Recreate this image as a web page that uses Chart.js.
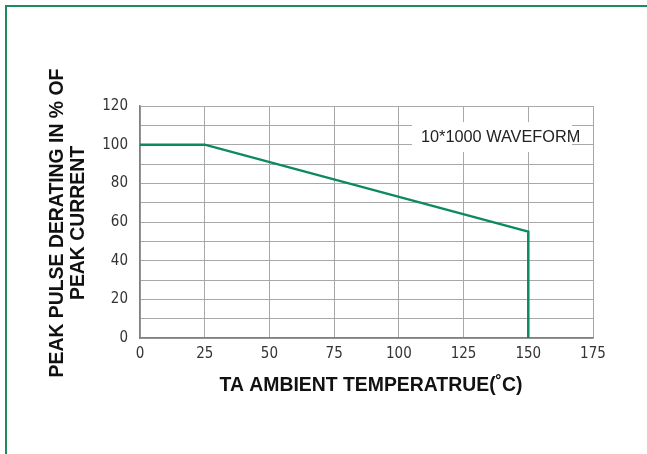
<!DOCTYPE html>
<html lang="en">
<head>
    <meta charset="UTF-8">
    <title>Peak pulse derating</title>
    <script src="https://cdn.jsdelivr.net/npm/chart.js"></script>
    <style>
        html, body { margin: 0; padding: 0; background: #fff; overflow: hidden; }
        .frame { position: absolute; left: 5px; top: 5px; width: 700px; height: 500px;
                 border-left: 2px solid #1f8a5e; border-top: 2px solid #1f8a5e; }
        canvas { position: absolute; left: 0; top: 0; }
    </style>
</head>
<body>
    <div class="frame"></div>
    <canvas id="derating" width="647" height="454"></canvas>

    <script>
        // curve: temperature (°C) vs % of peak current
        const temps = [0, 25, 150, 150];
        const percent = [100, 100, 55, 0];
        const xTicks = [0, 25, 50, 75, 100, 125, 150, 175];
        const yTicks = [0, 20, 40, 60, 80, 100, 120];

        const yTitle = ['PEAK PULSE DERATING IN % OF', 'PEAK CURRENT'];
        const xTitle = 'TA AMBIENT TEMPERATRUE(\u02DAC)';
        const note = '10*1000 WAVEFORM';

        const tickFont = { family: "'Liberation Sans Narrow', 'DejaVu Sans Condensed', sans-serif", size: 15 };

        const labelsPlugin = {
            id: 'labels',
            beforeDatasetsDraw(chart) {
                // white box behind the waveform note
                const c = chart.ctx;
                c.save();
                c.fillStyle = '#fff';
                c.fillRect(412, 122, 160, 30);
                c.restore();
            },
            afterDraw(chart) {
                const c = chart.ctx;
                c.save();
                c.fillStyle = '#222';
                c.font = "16.3px 'Liberation Sans', Arial, sans-serif";
                c.textAlign = 'left';
                c.textBaseline = 'alphabetic';
                c.fillText(note, 421, 142);

                c.fillStyle = '#111';
                c.font = "bold 19.4px 'Liberation Sans', Arial, sans-serif";
                c.textAlign = 'center';
                c.textBaseline = 'middle';
                c.fillText(xTitle, 371, 386);

                c.translate(0, 223);
                c.rotate(-Math.PI / 2);
                c.fillText(yTitle[0], 0, 58);
                c.fillText(yTitle[1], 0, 79);
                c.restore();
            }
        };

        new Chart(document.getElementById('derating'), {
            type: 'line',
            data: {
                datasets: [{
                    data: temps.map((t, i) => ({ x: t, y: percent[i] })),
                    borderColor: '#0b8a5c',
                    borderWidth: 2.5,
                    pointRadius: 0,
                    tension: 0,
                    fill: false
                }]
            },
            options: {
                responsive: false,
                animation: false,
                layout: { padding: { left: 100, right: 54, top: 106, bottom: 86 } },
                plugins: { legend: { display: false }, tooltip: { enabled: false } },
                scales: {
                    x: {
                        type: 'linear',
                        min: 0, max: 175,
                        afterBuildTicks: s => { s.ticks = xTicks.map(v => ({ value: v })); },
                        afterFit: s => { s.height = 30; },
                        grid: { color: '#a8a8a8', lineWidth: 1, drawTicks: false },
                        border: { color: '#808080', width: 1.5 },
                        ticks: { color: '#333', font: tickFont, padding: 7, maxRotation: 0, autoSkip: false }
                    },
                    y: {
                        min: 0, max: 120,
                        ticks: {
                            stepSize: 10, autoSkip: false,
                            color: '#333', font: tickFont, padding: 12,
                            callback: v => yTicks.includes(v) ? v : ''
                        },
                        afterFit: s => { s.width = 40; },
                        grid: { color: '#a8a8a8', lineWidth: 1, drawTicks: false },
                        border: { color: '#808080', width: 1.5 }
                    }
                }
            },
            plugins: [labelsPlugin]
        });
    </script>
</body>
</html>
